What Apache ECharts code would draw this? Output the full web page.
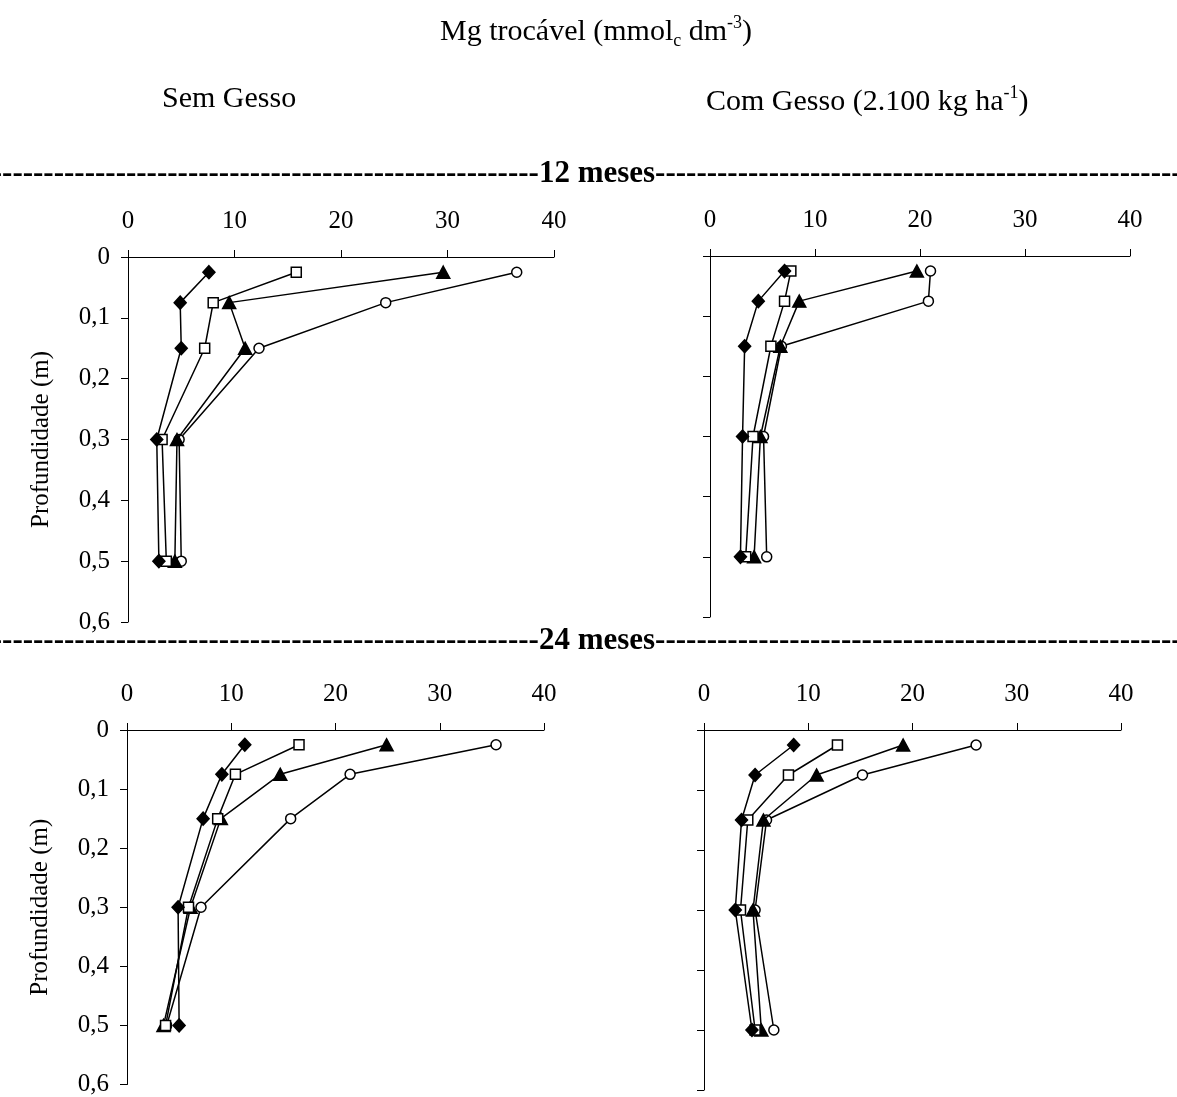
<!DOCTYPE html>
<html>
<head>
<meta charset="utf-8">
<script src="https://cdn.jsdelivr.net/npm/echarts@6/dist/echarts.min.js"></script>
<style>
html,body{margin:0;padding:0;background:#fff;}
#chart{width:1177px;height:1097px;}
</style>
</head>
<body>
<div id="chart"></div>
<script>
// Depths (m)
const depth = [0.025, 0.075, 0.15, 0.3, 0.5];
// Axis ticks
const xTicks = [0, 10, 20, 30, 40];
const yTicks = [0, 0.1, 0.2, 0.3, 0.4, 0.5, 0.6];

// 12 meses - Sem Gesso
const m12SemDiamond  = [7.6, 4.9, 5.0, 2.7, 2.9];
const m12SemSquare   = [15.8, 8.0, 7.2, 3.2, 3.6];
const m12SemTriangle = [29.6, 9.5, 11.0, 4.6, 4.4];
const m12SemCircle   = [36.5, 24.2, 12.3, 4.8, 5.0];
// 12 meses - Com Gesso
const m12ComDiamond  = [7.1, 4.6, 3.3, 3.1, 2.9];
const m12ComSquare   = [7.7, 7.1, 5.8, 4.1, 3.4];
const m12ComTriangle = [19.7, 8.5, 6.7, 4.8, 4.2];
const m12ComCircle   = [21.0, 20.8, 6.8, 5.1, 5.4];
// 24 meses - Sem Gesso
const m24SemDiamond  = [11.3, 9.1, 7.3, 4.9, 5.0];
const m24SemSquare   = [16.5, 10.4, 8.7, 5.9, 3.7];
const m24SemTriangle = [24.9, 14.7, 9.0, 6.1, 3.5];
const m24SemCircle   = [35.4, 21.4, 15.7, 7.1, 3.8];
// 24 meses - Com Gesso
const m24ComDiamond  = [8.6, 4.9, 3.6, 3.0, 4.6];
const m24ComSquare   = [12.8, 8.1, 4.2, 3.5, 4.9];
const m24ComTriangle = [19.1, 10.8, 5.7, 4.7, 5.5];
const m24ComCircle   = [26.1, 15.2, 6.0, 4.9, 6.7];

const FONT = '"Liberation Serif", "Times New Roman", serif';

const panels = [
  {grid: {left: 128, top: 257, width: 426, height: 365}, labels: true, data: [m12SemDiamond, m12SemSquare, m12SemTriangle, m12SemCircle]},
  {grid: {left: 710, top: 256, width: 420, height: 361}, labels: false, data: [m12ComDiamond, m12ComSquare, m12ComTriangle, m12ComCircle]},
  {grid: {left: 127, top: 730, width: 417, height: 355}, labels: true, data: [m24SemDiamond, m24SemSquare, m24SemTriangle, m24SemCircle]},
  {grid: {left: 704, top: 730, width: 417, height: 360}, labels: false, data: [m24ComDiamond, m24ComSquare, m24ComTriangle, m24ComCircle]}
];

const markers = [
  {name: 'Série 1', symbol: 'diamond', size: [12, 13], fill: '#000', z: 6},
  {name: 'Série 2', symbol: 'rect', size: 10, fill: '#fff', z: 5},
  {name: 'Série 3', symbol: 'triangle', size: [13, 12], fill: '#000', z: 4},
  {name: 'Série 4', symbol: 'circle', size: 10, fill: '#fff', z: 3}
];

const grids = [], xAxes = [], yAxes = [], series = [];
panels.forEach((p, i) => {
  grids.push(p.grid);
  xAxes.push({
    type: 'value', gridIndex: i, position: 'top',
    min: xTicks[0], max: xTicks[xTicks.length - 1], interval: 10,
    axisLine: {show: true, onZero: false, lineStyle: {color: '#000', width: 1}},
    axisTick: {show: true, inside: false, length: 7, lineStyle: {color: '#000', width: 1}},
    axisLabel: {show: true, margin: 23, color: '#000', fontFamily: FONT, fontSize: 25},
    splitLine: {show: false}
  });
  yAxes.push({
    type: 'value', gridIndex: i, inverse: true,
    min: yTicks[0], max: yTicks[yTicks.length - 1], interval: 0.1,
    axisLine: {show: true, onZero: false, lineStyle: {color: '#000', width: 1}},
    axisTick: {show: true, inside: false, length: 7, lineStyle: {color: '#000', width: 1}},
    axisLabel: {
      show: p.labels, margin: 18, color: '#000', fontFamily: FONT, fontSize: 25,
      formatter: v => v === 0 ? '0' : v.toFixed(1).replace('.', ',')
    },
    splitLine: {show: false},
    name: p.labels ? 'Profundidade (m)' : '',
    nameLocation: 'middle', nameGap: 74,
    nameTextStyle: {color: '#000', fontFamily: FONT, fontSize: 25}
  });
  p.data.forEach((vals, k) => {
    const m = markers[k];
    series.push({
      type: 'line', name: m.name, xAxisIndex: i, yAxisIndex: i,
      data: vals.map((v, j) => [v, depth[j]]),
      symbol: m.symbol, symbolSize: m.size, showSymbol: true,
      lineStyle: {color: '#000', width: 1.5},
      itemStyle: {color: m.fill, borderColor: '#000', borderWidth: 1.5},
      emphasis: {disabled: true},
      z: m.z
    });
  });
});

const dashes = '-'.repeat(64);

const chart = echarts.init(document.getElementById('chart'), null, {renderer: 'canvas'});
chart.setOption({
  backgroundColor: '#fff',
  animation: false,
  grid: grids,
  xAxis: xAxes,
  yAxis: yAxes,
  series: series,
  graphic: [
    {type: 'text', left: 440, top: 14, style: {
      text: '{n|Mg trocável (mmol}{sub|c}{n| dm}{sup|-3}{n|)}',
      rich: {
        n: {fontFamily: FONT, fontSize: 30, color: '#000', lineHeight: 36, verticalAlign: 'middle'},
        sub: {fontFamily: FONT, fontSize: 18, color: '#000', lineHeight: 18, verticalAlign: 'bottom'},
        sup: {fontFamily: FONT, fontSize: 18, color: '#000', lineHeight: 18, verticalAlign: 'top'}
      }
    }},
    {type: 'text', left: 162, top: 84, style: {
      text: 'Sem Gesso', fontFamily: FONT, fontSize: 30, fill: '#000'
    }},
    {type: 'text', left: 706, top: 84, style: {
      text: '{n|Com Gesso (2.100 kg ha}{sup|-1}{n|)}',
      rich: {
        n: {fontFamily: FONT, fontSize: 30, color: '#000', lineHeight: 36, verticalAlign: 'middle'},
        sup: {fontFamily: FONT, fontSize: 18, color: '#000', lineHeight: 18, verticalAlign: 'top'}
      }
    }},
    {type: 'text', x: 597, y: 174, style: {
      text: dashes + '12 meses' + dashes, fontFamily: FONT, fontSize: 31, fontWeight: 'bold',
      fill: '#000', align: 'center', verticalAlign: 'middle'
    }},
    {type: 'text', x: 597, y: 641, style: {
      text: dashes + '24 meses' + dashes, fontFamily: FONT, fontSize: 31, fontWeight: 'bold',
      fill: '#000', align: 'center', verticalAlign: 'middle'
    }}
  ]
});
</script>
</body>
</html>
